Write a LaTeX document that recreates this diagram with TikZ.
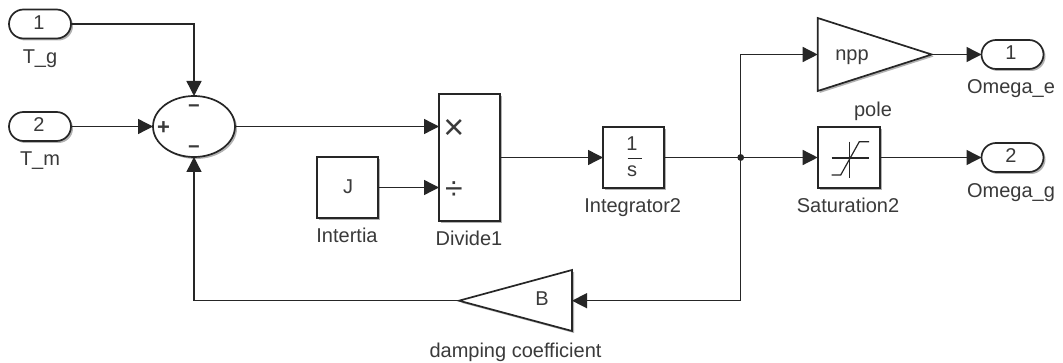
\documentclass[tikz,border=0pt]{standalone}
\usepackage{fontspec}
\setmainfont{Liberation Sans}
\usetikzlibrary{arrows.meta,shapes.geometric,shapes.misc,shadows}
\definecolor{ink}{HTML}{262626}
\definecolor{txt}{HTML}{3A3A3A}
\tikzset{
  sh/.style={general shadow={shadow xshift=2pt,shadow yshift=-2pt,fill=black,opacity=.3}},
  blk/.style={draw=ink,line width=1.7pt,fill=white,sh},
  boxb/.style={blk,rectangle,inner sep=0pt,outer sep=0pt},
  port/.style={blk,rounded rectangle,minimum width=62pt,minimum height=29pt,inner sep=0pt,outer sep=0pt},
  sumb/.style={blk,ellipse,minimum width=82pt,minimum height=61pt,inner sep=0pt,outer sep=0pt},
  lab/.style={anchor=base,inner sep=0pt,outer sep=0pt,text=txt,font=\fontsize{20}{22}\selectfont},
  sig/.style={draw=ink,line width=1.4pt,-{Triangle[length=15pt,width=15pt]},shorten >=0pt},
}
\begin{document}
\begin{tikzpicture}[x=1pt,y=-1pt]
\useasboundingbox (0,0) rectangle (1063,363);
\fill[white] (0,0) rectangle (1063,363);
% blocks
\node[port] (in1) at (40,24) {};
\node[port] (in2) at (40,126.5) {};
\node[sumb] (sum) at (194,126.5) {};
\node[boxb,minimum width=61pt,minimum height=127pt] (div) at (469.5,157.5) {};
\node[boxb,minimum width=61pt,minimum height=61pt] (J) at (347.5,187.5) {};
\node[boxb,minimum width=61pt,minimum height=61pt] (int) at (633.5,157.5) {};
\node[boxb,minimum width=62pt,minimum height=61pt] (sat) at (848.7,157.5) {};
\node[port] (out1) at (1012.5,54.5) {};
\node[port] (out2) at (1012.5,157.5) {};
\coordinate (nppIn) at (817.7,54.5);
\coordinate (nppOut) at (931.7,54.5);
\draw[blk,line join=miter] (817.7,18) -- (nppOut) -- (817.7,91) -- cycle;
\coordinate (bIn) at (572,300.7);
\coordinate (bOut) at (459,300.7);
\draw[blk,line join=miter] (572,270) -- (bOut) -- (572,331) -- cycle;
\coordinate (dx) at (div.west |- sum.east);
\coordinate (dd) at (div.west |- J.east);
\coordinate (jn) at (740.7,157.5);
% connectors
\draw[sig] (in1.east) -| (sum.north);
\draw[sig] (in2.east) -- (sum.west);
\draw[sig] (sum.east) -- (dx);
\draw[sig] (J.east) -- (dd);
\draw[sig] (div.east) -- (int.west);
\draw[sig] (int.east) -- (sat.west);
\draw[sig] (jn) |- (nppIn);
\draw[sig] (jn) |- (bIn);
\draw[sig] (bOut) -| (sum.south);
\draw[sig] (nppOut) -- (out1.west);
\draw[sig] (sat.east) -- (out2.west);
\fill[ink] (jn) circle (3.4pt);
% saturation icon
\draw[ink,line width=1.2pt] (831.7,158) -- (869,158);
\draw[ink,line width=1.2pt] (849.3,141.7) -- (849.3,177.7);
\draw[ink,line width=1.2pt] (831.7,175) -- (840.7,175) -- (859.3,141.7) -- (869,141.7);
% integrator bar
\draw[ink,line width=1.3pt] (627.7,158.5) -- (641.7,158.5);
% block texts
\node[lab] (t1) at (39,29.5) {1};
\node[lab] (t2) at (39,132) {2};
\node[lab] (t3) at (1011,60) {1};
\node[lab] (t4) at (1011,163) {2};
\node[lab] (tJ) at (348,193.5) {J};
\node[lab] (t5) at (632,151) {1};
\node[lab] (t6) at (632,177) {s};
\node[lab] (tn) at (852,61) {npp};
\node[lab] (tB) at (542,306) {B};
\node[lab,font=\fontsize{22}{24}\bfseries\selectfont] (p) at (163.5,134.5) {+};
\node[lab,font=\fontsize{20}{22}\bfseries\selectfont] (m1) at (194,112.6) {−};
\node[lab,font=\fontsize{20}{22}\bfseries\selectfont] (m2) at (194,153.6) {−};
\node[lab,font=\fontsize{36}{38}\selectfont] (mul) at (454,140) {×};
\node[lab,font=\fontsize{32}{34}\selectfont] (dv) at (454,199.5) {÷};
% labels
\node[lab] (l1) at (40,63.5) {T\_g};
\node[lab] (l2) at (40,165.5) {T\_m};
\node[lab] (l3) at (1011,94) {Omega\_e};
\node[lab] (l4) at (1011,197.5) {Omega\_g};
\node[lab] (l5) at (873,117) {pole};
\node[lab] (l6) at (848,213) {Saturation2};
\node[lab] (l7) at (632.7,213) {Integrator2};
\node[lab] (l8) at (469,246) {Divide1};
\node[lab] (l9) at (347,243) {Intertia};
\node[lab] (l10) at (515.5,357) {damping coefficient};
\end{tikzpicture}
\end{document}
